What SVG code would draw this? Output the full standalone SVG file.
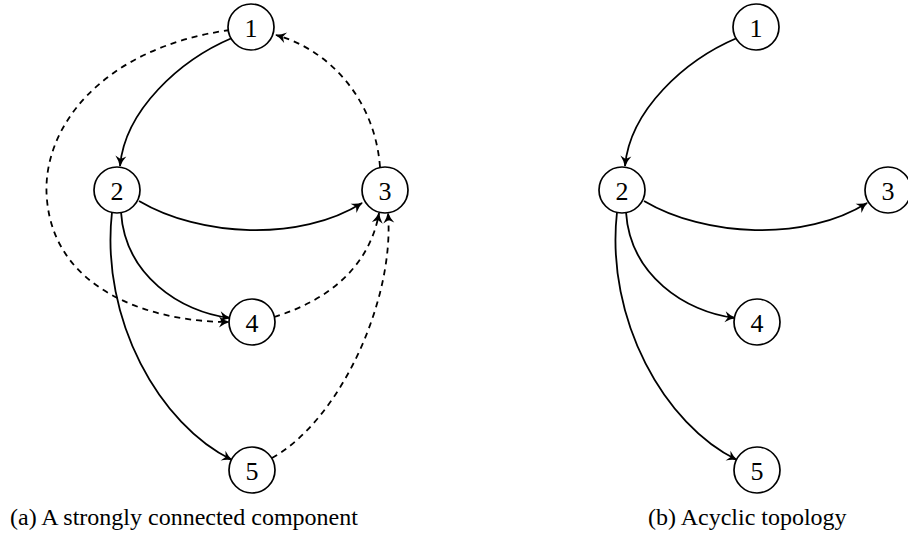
<svg xmlns="http://www.w3.org/2000/svg" width="908" height="538" viewBox="0 0 908 538">
<defs>
<marker id="ah" markerUnits="userSpaceOnUse" markerWidth="16" markerHeight="14" viewBox="-13 -7 15 14" refX="0" refY="0" orient="auto">
<path d="M1,0 Q-5,-1.5 -10,-5.5 L-7,0 L-10,5.5 Q-5,1.5 1,0 Z" fill="#000"/>
</marker>
</defs>
<style>
.n circle{fill:#fff;stroke:#000;stroke-width:1.7}
.n text{font-family:"Liberation Serif",serif;font-size:26px;text-anchor:middle;dominant-baseline:central}
.e path{fill:none;stroke:#000;stroke-width:1.8;marker-end:url(#ah)}
.e path.d{stroke-dasharray:6,5}
.cap{font-family:"Liberation Serif",serif;font-size:24px}
</style>
<g id="edges" class="e">
<path d="M232,38 C180,60 125,110 120,166"/>
<path class="d" d="M230,30 C100,48 40,130 47,200 C55,290 150,322 229,322"/>
<path class="d" d="M380,167 C375,100 330,50 276,35"/>
<path d="M139,201 C200,237 300,242 362,203"/>
<path d="M121,212 C125,275 180,312 230,318"/>
<path d="M112,212 C100,320 160,425 232,460"/>
<path class="d" d="M274,317 C330,300 370,265 379,213"/>
<path class="d" d="M272,458 C340,420 395,300 388,213"/>
<path d="M737,38 C685,60 630,110 625,166"/>
<path d="M644,201 C705,237 805,242 867,203"/>
<path d="M626,212 C630,275 685,312 735,318"/>
<path d="M617,212 C605,320 665,425 737,460"/>
</g>
<g id="a1" class="n"><circle cx="251" cy="27" r="23"/><text x="251" y="28">1</text></g>
<g id="a2" class="n"><circle cx="117" cy="190" r="23"/><text x="117" y="191">2</text></g>
<g id="a3" class="n"><circle cx="385" cy="190" r="23"/><text x="385" y="191">3</text></g>
<g id="a4" class="n"><circle cx="252" cy="322" r="23"/><text x="252" y="323">4</text></g>
<g id="a5" class="n"><circle cx="252" cy="470" r="23"/><text x="252" y="471">5</text></g>
<g id="b1" class="n"><circle cx="756" cy="27" r="23"/><text x="756" y="28">1</text></g>
<g id="b2" class="n"><circle cx="622" cy="190" r="23"/><text x="622" y="191">2</text></g>
<g id="b3" class="n"><circle cx="888" cy="190" r="23"/><text x="888" y="191">3</text></g>
<g id="b4" class="n"><circle cx="757" cy="322" r="23"/><text x="757" y="323">4</text></g>
<g id="b5" class="n"><circle cx="757" cy="470" r="23"/><text x="757" y="471">5</text></g>
<text class="cap" x="10" y="525">(a) A strongly connected component</text>
<text class="cap" x="648" y="525">(b) Acyclic topology</text>
</svg>
